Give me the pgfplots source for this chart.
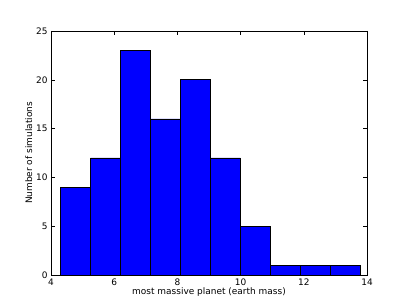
\documentclass[border=0pt]{standalone}
\usepackage{pgfplots}
\pgfplotsset{compat=1.18}
\usepackage{fontspec}
\setmainfont{DejaVu Sans}
\begin{document}
\begin{tikzpicture}
\path[use as bounding box, fill=white] (0,0) rectangle (407bp,305bp);
\begin{axis}[
  at={(51bp,30bp)}, anchor=south west,
  scale only axis, width=316bp, height=244bp,
  xmin=4, xmax=14, ymin=0, ymax=25,
  xtick={4,6,8,10,12,14}, ytick={0,5,10,15,20,25},
  tick align=inside, tick pos=both,
  major tick length=4bp,
  /pgf/number format/assume math mode=true,
  tick label style={font=\fontsize{9}{10}\selectfont},
  label style={font=\fontsize{9}{10}\selectfont},
  xlabel={most massive planet (earth mass)},
  ylabel={Number of simulations},
  xlabel style={yshift=4bp},
  ylabel style={yshift=-3bp},
  axis line style={black, line width=0.6pt},
  tick style={black, line width=0.5pt},
]
\addplot[ybar interval, fill={rgb,255:red,0;green,0;blue,255}, draw=black, line width=0.6pt] coordinates {
(4.31,9) (5.257,12) (6.204,23) (7.151,16) (8.098,20) (9.045,12) (9.992,5) (10.939,1) (11.886,1) (12.833,1) (13.78,1)
};
\end{axis}
\end{tikzpicture}
\end{document}
